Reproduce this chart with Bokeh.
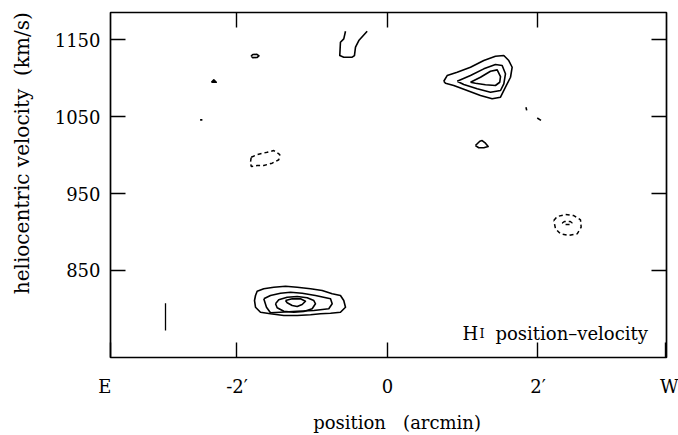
import math
from bokeh.plotting import figure
from bokeh.models import Range1d, LinearAxis, FixedTicker, Label
from bokeh.embed import file_html
from bokeh.resources import INLINE

# ---- axes / ticks ----
x_ticks = [-2, 0, 2]
x_tick_labels = ["-2\u2032", "0", "2\u2032"]
y_ticks = [850, 950, 1050, 1150]
y_tick_labels = ["850", "950", "1050", "1150"]
x_limits = [-3.681, 3.708]
y_limits = [737.0, 1185.1]
# compass directions written at the two ends of the position axis
side_ticks = [-3.68, 3.70]
side_labels = ["E", "W"]

# ---- contours: position (arcmin), heliocentric velocity (km/s) ----
# lower-left emission (four closed contours)
ll1_x = [-1.754, -1.732, -1.644, -1.511, -1.355, -1.200, -1.023, -0.868, -0.735, -0.625, -0.581, -0.558,
         -0.625, -0.757, -0.890, -1.023, -1.200, -1.378, -1.555, -1.688, -1.754, -1.767]
ll1_y = [817.5, 823.1, 826.2, 828.3, 829.6, 828.3, 826.2, 824.0, 819.7, 817.5, 811.0, 802.3,
         795.8, 794.5, 793.8, 792.5, 791.6, 791.6, 793.8, 795.8, 802.3, 811.0]
ll2_x = [-1.644, -1.555, -1.422, -1.289, -1.134, -0.957, -0.757, -0.735, -0.780, -0.979, -1.200, -1.422, -1.555, -1.608]
ll2_y = [813.2, 817.5, 820.5, 821.8, 820.5, 817.5, 813.2, 806.8, 800.3, 798.1, 797.1, 795.8, 795.1, 802.3]
ll3_x = [-1.488, -1.445, -1.333, -1.200, -1.067, -0.979, -0.957, -1.001, -1.112, -1.245, -1.378, -1.466]
ll3_y = [806.8, 811.9, 815.3, 816.2, 814.5, 811.0, 806.8, 800.3, 796.8, 795.8, 797.1, 801.6]
ll4_x = [-1.355, -1.266, -1.156, -1.090, -1.134, -1.200, -1.266, -1.333]
ll4_y = [811.0, 813.2, 813.2, 810.1, 805.8, 803.2, 804.5, 808.1]

# upper-right emission (three closed contours)
ur1_x = [0.748, 0.793, 0.926, 1.103, 1.280, 1.435, 1.546, 1.612, 1.657, 1.635, 1.568, 1.502, 1.391, 1.236, 1.059, 0.881, 0.771]
ur1_y = [1095.8, 1103.2, 1107.5, 1114.0, 1122.7, 1128.3, 1129.2, 1122.7, 1114.0, 1101.0, 1088.1, 1075.1, 1073.0, 1077.3, 1083.8, 1090.3, 1093.2]
ur2_x = [0.926, 1.103, 1.280, 1.435, 1.524, 1.568, 1.546, 1.502, 1.369, 1.192, 1.014]
ur2_y = [1095.8, 1103.2, 1111.9, 1117.5, 1116.2, 1105.5, 1092.5, 1083.8, 1081.6, 1086.0, 1091.6]
ur3_x = [1.103, 1.236, 1.369, 1.458, 1.502, 1.492, 1.435, 1.302, 1.169]
ur3_y = [1094.5, 1101.0, 1108.8, 1110.6, 1101.9, 1094.5, 1090.3, 1091.2, 1093.2]

# small closed solid contours
sm1_x = [1.169, 1.227, 1.258, 1.302, 1.338, 1.280, 1.213]
sm1_y = [1012.3, 1017.9, 1018.8, 1015.3, 1011.0, 1009.4, 1009.4]
sm2_x = [-1.814, -1.790, -1.735, -1.708, -1.735, -1.790]
sm2_y = [1128.6, 1130.5, 1130.8, 1128.8, 1126.6, 1126.5]
sm3_x = [-2.340, -2.308, -2.275]
sm3_y = [1094.5, 1097.5, 1094.5]

# open solid contour at the top edge
top_x = [-0.558, -0.581, -0.625, -0.634, -0.581, -0.469, -0.439, -0.425, -0.381, -0.270]
top_y = [1160.8, 1150.9, 1146.5, 1129.2, 1127.0, 1127.0, 1129.2, 1140.0, 1148.7, 1160.8]

# tiny solid fragments
frag_x = [[-2.490, -2.460], [1.840, 1.850], [1.990, 2.040]]
frag_y = [[1045.7, 1045.7], [1062.0, 1058.0], [1048.0, 1045.0]]

# negative (dashed) contours
neg1_x = [-1.811, -1.732, -1.599, -1.511, -1.431, -1.445, -1.532, -1.644, -1.732, -1.811, -1.821]
neg1_y = [997.1, 1000.6, 1003.6, 1005.8, 1000.6, 993.8, 989.4, 986.4, 986.4, 985.1, 990.7]
neg2_x = [2.210, 2.255, 2.365, 2.476, 2.565, 2.574, 2.521, 2.409, 2.299, 2.233]
neg2_y = [914.9, 920.1, 922.7, 921.4, 915.8, 906.2, 897.7, 895.5, 897.7, 904.2]
neg3_x = [2.322, 2.350, 2.430, 2.454, 2.430, 2.350]
neg3_y = [911.7, 913.6, 913.6, 911.7, 909.8, 909.8]

# velocity resolution bar
bar_x = [-2.95]
bar_y = [772.1, 807.5]

FONT = "DejaVu Serif"
NB = "\u00a0"


def closed(xs, ys):
    return list(xs) + [xs[0]], list(ys) + [ys[0]]


p = figure(width=678, height=435, output_backend="svg", toolbar_location=None,
           x_range=Range1d(*x_limits), y_range=Range1d(*y_limits),
           x_axis_location=None, y_axis_location=None,
           min_border_left=110, min_border_right=12, min_border_top=12, min_border_bottom=78)
for g in p.grid:
    g.visible = False
p.background_fill_color = "white"
p.border_fill_color = "white"
p.outline_line_color = "black"
p.outline_line_width = 1.7


def make_axis(ticks, labels, show_labels, standoff):
    ax = LinearAxis(ticker=FixedTicker(ticks=ticks),
                    major_label_overrides={t: (l if show_labels else "") for t, l in zip(ticks, labels)},
                    axis_line_color=None, major_tick_in=15, major_tick_out=0,
                    major_tick_line_width=1.4, major_tick_line_color="black",
                    minor_tick_line_color=None,
                    major_label_text_font=FONT,
                    major_label_text_font_size="18px" if show_labels else "1px",
                    major_label_text_color="black" if show_labels else None,
                    major_label_standoff=standoff if show_labels else 0,
                    axis_label_text_font=FONT, axis_label_text_font_style="normal",
                    axis_label_text_color="black")
    return ax


left_ax = make_axis(y_ticks, y_tick_labels, True, 10)
left_ax.axis_label = NB * 10 + "heliocentric velocity" + NB * 2 + "(km/s)"
left_ax.axis_label_text_font_size = "20px"
left_ax.axis_label_standoff = 18
p.add_layout(left_ax, "left")
p.add_layout(make_axis(y_ticks, y_tick_labels, False, 0), "right")

bottom_ax = make_axis(side_ticks[:1] + x_ticks + side_ticks[1:],
                      [side_labels[0] + NB * 2] + x_tick_labels + [NB * 4 + side_labels[1]], True, 18)
bottom_ax.axis_label = NB * 3 + "position" + NB * 3 + "(arcmin)"
bottom_ax.axis_label_text_font_size = "18px"
bottom_ax.axis_label_standoff = 12
p.add_layout(bottom_ax, "below")
p.add_layout(make_axis(x_ticks, x_tick_labels, False, 0), "above")

solid = [closed(ll1_x, ll1_y), closed(ll2_x, ll2_y), closed(ll3_x, ll3_y), closed(ll4_x, ll4_y),
         closed(ur1_x, ur1_y), closed(ur2_x, ur2_y), closed(ur3_x, ur3_y),
         closed(sm1_x, sm1_y), closed(sm2_x, sm2_y), closed(sm3_x, sm3_y),
         (top_x, top_y)] + list(zip(frag_x, frag_y))
p.multi_line(xs=[s[0] for s in solid], ys=[s[1] for s in solid],
             line_color="black", line_width=1.6, line_join="round")

dashed = [closed(neg1_x, neg1_y), closed(neg2_x, neg2_y), closed(neg3_x, neg3_y)]
p.multi_line(xs=[d[0] for d in dashed], ys=[d[1] for d in dashed],
             line_color="black", line_width=1.5, line_dash="4 3")

p.segment(x0=[bar_x[0]], y0=[bar_y[0]], x1=[bar_x[0]], y1=[bar_y[1]],
          line_color="black", line_width=1.3)

# in-frame caption
cap_y = 768.0
p.add_layout(Label(x=0.997, y=cap_y, text="H", text_font=FONT, text_font_size="18px",
                   text_align="left", text_baseline="alphabetic", text_color="black"))
p.add_layout(Label(x=1.223, y=cap_y, text="I", text_font=FONT, text_font_size="13px",
                   text_align="left", text_baseline="alphabetic", text_color="black"))
p.add_layout(Label(x=1.435, y=cap_y, text="position\u2013velocity", text_font=FONT,
                   text_font_size="18px", text_align="left", text_baseline="alphabetic",
                   text_color="black"))

open("out.html", "w").write(file_html(p, INLINE))
